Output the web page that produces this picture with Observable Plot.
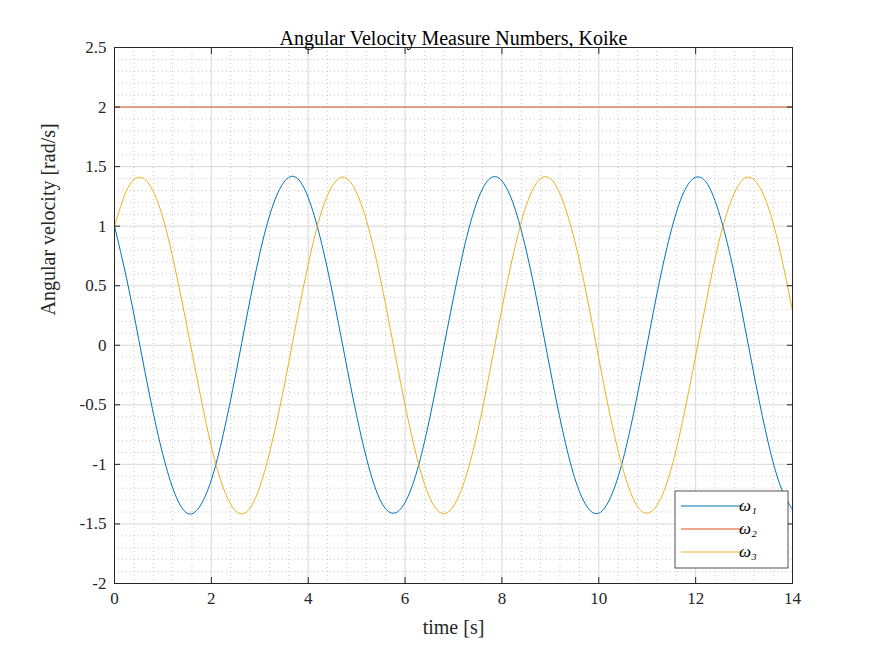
<!DOCTYPE html>
<html><head><meta charset="utf-8">
<script src="https://cdn.jsdelivr.net/npm/d3@7"></script>
<script src="https://cdn.jsdelivr.net/npm/@observablehq/plot@0.6"></script>
<style>body{margin:0;background:#fff}</style>
</head><body><div id="chart"></div>
<script>
var t = d3.range(57).map(i => i * 0.25);
var w1 = [1.00,0.56,0.05,-0.47,-0.92,-1.25,-1.41,-1.36,-1.13,-0.74,-0.25,0.28,0.77,1.15,1.37,1.41,1.24,
  0.90,0.44,-0.08,-0.59,-1.02,-1.31,-1.41,-1.32,-1.05,-0.63,-0.12,0.40,0.87,1.22,1.40,1.38,
  1.17,0.80,0.32,-0.21,-0.71,-1.11,-1.35,-1.41,-1.27,-0.96,-0.51,0.01,0.53,0.97,1.28,1.41,
  1.35,1.09,0.69,0.19,-0.34,-0.82,-1.18,-1.38];
var w2 = t.map(() => 2);
var w3 = [1.00,1.30,1.41,1.33,1.07,0.65,0.15,-0.37,-0.85,-1.20,-1.39,-1.39,-1.19,-0.82,-0.35,0.18,0.68,
  1.09,1.34,1.41,1.28,0.98,0.54,0.02,-0.50,-0.95,-1.27,-1.41,-1.35,-1.11,-0.72,-0.22,0.31,
  0.79,1.17,1.38,1.40,1.22,0.88,0.42,-0.11,-0.62,-1.04,-1.32,-1.41,-1.31,-1.03,-0.60,-0.09,
  0.43,0.90,1.23,1.40,1.37,1.16,0.78,0.29];
var xTicks = d3.range(0, 14.01, 2);
var yTicks = d3.range(-2, 2.51, 0.5);
var xMinor = d3.range(0, 14.01, 0.4);
var yMinor = d3.range(-2, 2.501, 0.1);
var names = ["ω₁", "ω₂", "ω₃"];
var colors = ["#0072BD", "#D95319", "#EDB120"];

var rows = [];
t.forEach((ti, i) => {
  rows.push({t: ti, v: w1[i], k: 0});
  rows.push({t: ti, v: w2[i], k: 1});
  rows.push({t: ti, v: w3[i], k: 2});
});
var font = "'Liberation Serif', 'DejaVu Serif', serif";

var chart = Plot.plot({
  width: 875, height: 656,
  marginLeft: 114, marginRight: 83, marginTop: 47, marginBottom: 73,
  style: {fontFamily: font, fontSize: "17px", color: "#262626", background: "#fff"},
  x: {domain: [0, 14]},
  y: {domain: [-2, 2.5]},
  marks: [
    Plot.ruleX(xMinor, {stroke: "#bbb", strokeDasharray: "1,3", strokeWidth: 0.8}),
    Plot.ruleY(yMinor, {stroke: "#bbb", strokeDasharray: "1,3", strokeWidth: 0.8}),
    Plot.ruleX(xTicks, {stroke: "#dcdcdc"}),
    Plot.ruleY(yTicks, {stroke: "#dcdcdc"}),
    Plot.line(rows, {x: "t", y: "v", z: "k", stroke: d => colors[d.k], curve: "natural", strokeWidth: 1}),
    Plot.frame({stroke: "#262626"}),
    Plot.axisX({ticks: xTicks, tickSize: -6, tickPadding: 14, tickFormat: d => String(d), label: null, fontSize: 17}),
    Plot.axisX({ticks: xTicks, anchor: "top", tickSize: -6, tickFormat: () => "", label: null}),
    Plot.axisY({ticks: yTicks, tickSize: -6, tickPadding: 14, tickFormat: d => String(d), label: null, fontSize: 17}),
    Plot.axisY({ticks: yTicks, anchor: "right", tickSize: -6, tickFormat: () => "", label: null}),
    Plot.text(["Angular Velocity Measure Numbers, Koike"], {frameAnchor: "top", dy: -17, fontSize: 20, fill: "#000"}),
    Plot.text(["time [s]"], {frameAnchor: "bottom", dy: 50, fontSize: 20, fill: "#262626"}),
    Plot.text(["Angular velocity [rad/s]"], {frameAnchor: "left", dx: -66, rotate: -90, fontSize: 20, fill: "#262626"})
  ]
});
document.getElementById("chart").append(chart);

// legend box, bottom-right inside the axes
var svg = d3.select(chart);
var lg = svg.append("g").attr("transform", "translate(675,491)").style("font-family", font);
lg.append("rect").attr("width", 113).attr("height", 77).attr("fill", "#fff").attr("stroke", "#262626").attr("stroke-width", 0.8);
names.forEach((n, i) => {
  var y = 15 + i * 23;
  lg.append("line").attr("x1", 6).attr("x2", 68).attr("y1", y).attr("y2", y).attr("stroke", colors[i]);
  lg.append("text").attr("x", 73).attr("y", y + 5).attr("font-size", 17).attr("font-style", "italic").attr("fill", "#000").text(n);
});
</script>
</body></html>
